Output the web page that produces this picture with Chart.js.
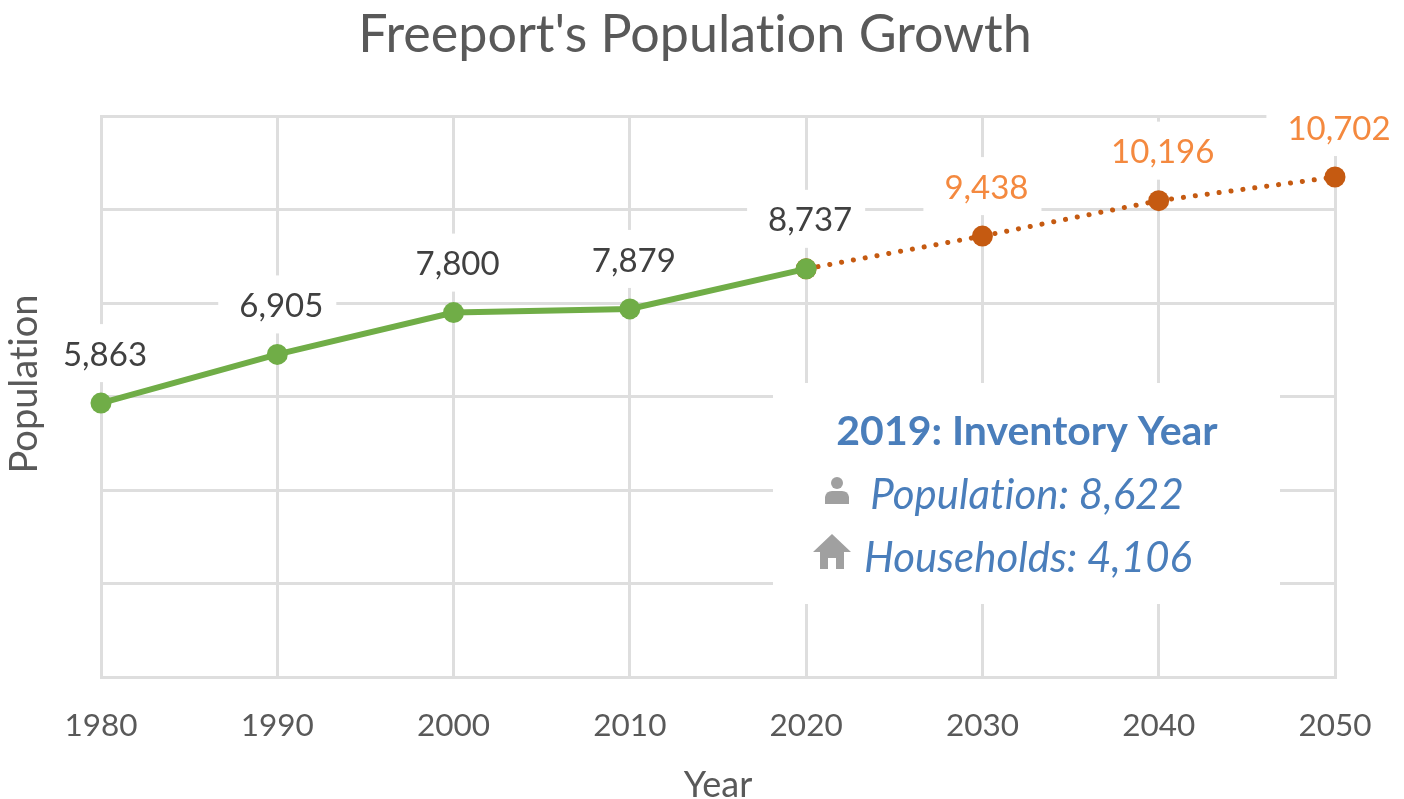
<!DOCTYPE html>
<html>
<head>
<meta charset="utf-8">
<title>Freeport's Population Growth</title>
<script src="https://cdn.jsdelivr.net/npm/chart.js@4"></script>
<style>
  html, body { margin: 0; padding: 0; background: #fff; }
  #wrap { width: 1404px; height: 799px; position: relative; }
</style>
</head>
<body>
<div id="wrap"><canvas id="popChart"></canvas></div>
<script>
// Chart data
const years = ['1980', '1990', '2000', '2010', '2020', '2030', '2040', '2050'];
const actual = [5863, 6905, 7800, 7879, 8737, null, null, null];
const projected = [null, null, null, null, 8737, 9438, 10196, 10702];
const noteTitle = '2019: Inventory Year';
const noteLines = ['Population: 8,622', 'Households: 4,106'];

const FONT = 'Lato, "Open Sans", sans-serif';
const GREEN = '#70ad47';
const RUST = '#c55a11';
const GRID = '#dedede';
const GREY = '#595959';
const BLUE = '#4a7ebb';

function fmt(v) {
    return v.toLocaleString('en-US');
}

function eachLabel(chart, cb) {
    chart.data.datasets.forEach(function(ds, i) {
        const meta = chart.getDatasetMeta(i);
        ds.data.forEach(function(v, j) {
            if (v === null || ds.skipLabel === j) return;
            cb(fmt(v), meta.data[j].x, meta.data[j].y, ds.labelColor);
        });
    });
}

// White boxes behind the value labels, then the labels themselves
const valueLabels = {
    id: 'valueLabels',
    beforeDraw(chart) {
        // no "ti" ligatures, Calibri in the original does not join them
        chart.ctx.textRendering = 'optimizeSpeed';
    },
    beforeDatasetsDraw(chart) {
        const c = chart.ctx;
        c.save();
        c.font = '33px ' + FONT;
        c.fillStyle = '#fff';
        eachLabel(chart, function(text, x, y) {
            const w = c.measureText(text).width + 34;
            c.fillRect(x - w / 2, y - 79, w, 58);
        });
        c.restore();
    },
    afterDatasetsDraw(chart) {
        const c = chart.ctx;
        c.save();
        c.font = '33px ' + FONT;
        c.textAlign = 'center';
        c.textBaseline = 'middle';
        eachLabel(chart, function(text, x, y, color) {
            c.fillStyle = color;
            c.fillText(text, x + 4, y - 48);
        });
        c.restore();
    }
};

function drawPerson(c, x, y) {
    c.beginPath();
    c.arc(x, y - 8, 6, 0, Math.PI * 2);
    c.fill();
    c.beginPath();
    c.moveTo(x - 12, y + 13);
    c.lineTo(x - 12, y + 6);
    c.quadraticCurveTo(x - 11, y, x - 5, y);
    c.lineTo(x + 5, y);
    c.quadraticCurveTo(x + 11, y, x + 12, y + 6);
    c.lineTo(x + 12, y + 13);
    c.closePath();
    c.fill();
}

function drawHouse(c, x, y) {
    c.beginPath();
    c.moveTo(x, y - 18);
    c.lineTo(x + 19, y);
    c.lineTo(x + 12, y);
    c.lineTo(x + 12, y + 17);
    c.lineTo(x + 4, y + 17);
    c.lineTo(x + 4, y + 6);
    c.lineTo(x - 4, y + 6);
    c.lineTo(x - 4, y + 17);
    c.lineTo(x - 12, y + 17);
    c.lineTo(x - 12, y);
    c.lineTo(x - 19, y);
    c.closePath();
    c.fill();
}

// Inventory year note and the y axis title (it sits above the axis centre)
const inventoryNote = {
    id: 'inventoryNote',
    afterDraw(chart) {
        const c = chart.ctx;
        c.save();
        c.fillStyle = '#fff';
        c.fillRect(773, 383, 507, 221);
        c.fillStyle = BLUE;
        c.textAlign = 'center';
        c.textBaseline = 'middle';
        c.font = 'bold 41px ' + FONT;
        c.fillText(noteTitle, 1027, 432);
        c.font = 'italic 42px ' + FONT;
        c.fillText(noteLines[0], 1027, 495);
        c.fillText(noteLines[1], 1028, 558);
        c.fillStyle = '#a0a0a0';
        drawPerson(c, 837, 491);
        drawHouse(c, 832, 552);

        c.translate(25, 384);
        c.rotate(-Math.PI / 2);
        c.fillStyle = GREY;
        c.font = '38px ' + FONT;
        c.fillText('Population', 0, 0);
        c.restore();
    }
};

new Chart(document.getElementById('popChart'), {
    type: 'line',
    data: {
        labels: years,
        datasets: [
            {
                label: 'Actual',
                data: actual,
                borderColor: GREEN,
                backgroundColor: GREEN,
                borderWidth: 6,
                pointRadius: 10.5,
                pointBorderWidth: 0,
                labelColor: '#404040',
                clip: false
            },
            {
                label: 'Projected',
                data: projected,
                borderColor: RUST,
                backgroundColor: RUST,
                borderWidth: 5,
                borderDash: [0.1, 11.9],
                borderCapStyle: 'round',
                pointRadius: 10.5,
                pointBorderWidth: 0,
                labelColor: '#f4893f',
                skipLabel: 4,
                clip: false
            }
        ]
    },
    options: {
        responsive: true,
        maintainAspectRatio: false,
        animation: false,
        layout: { padding: { left: 0, right: 14, top: 0, bottom: 0 } },
        plugins: {
            legend: { display: false },
            tooltip: { enabled: false },
            title: {
                display: true,
                text: "Freeport's Population Growth",
                color: GREY,
                font: { family: FONT, size: 52, weight: 'normal' },
                padding: { top: 4, bottom: 50 }
            }
        },
        scales: {
            x: {
                grid: { color: GRID, lineWidth: 3, drawTicks: false },
                border: { color: GRID, width: 3 },
                ticks: {
                    color: GREY,
                    font: { family: FONT, size: 31.5 },
                    padding: 30,
                    maxRotation: 0,
                    autoSkip: false
                },
                title: {
                    display: true,
                    text: 'Year',
                    color: GREY,
                    font: { family: FONT, size: 36 },
                    padding: { top: 20, bottom: -8 }
                },
                afterFit(scale) { scale.height = 122; }
            },
            y: {
                min: 0,
                max: 12000,
                grid: { color: GRID, lineWidth: 3, drawTicks: false },
                border: { color: GRID, width: 3 },
                ticks: { display: false, stepSize: 2000 },
                afterFit(scale) { scale.width = 101; }
            },
            // empty axis, keeps the plot clear of the right edge so the title stays centred on the page
            yRight: {
                position: 'right',
                grid: { display: false },
                border: { display: false },
                ticks: { display: false },
                afterFit(scale) { scale.width = 55; }
            }
        }
    },
    plugins: [valueLabels, inventoryNote]
});
</script>
</body>
</html>
